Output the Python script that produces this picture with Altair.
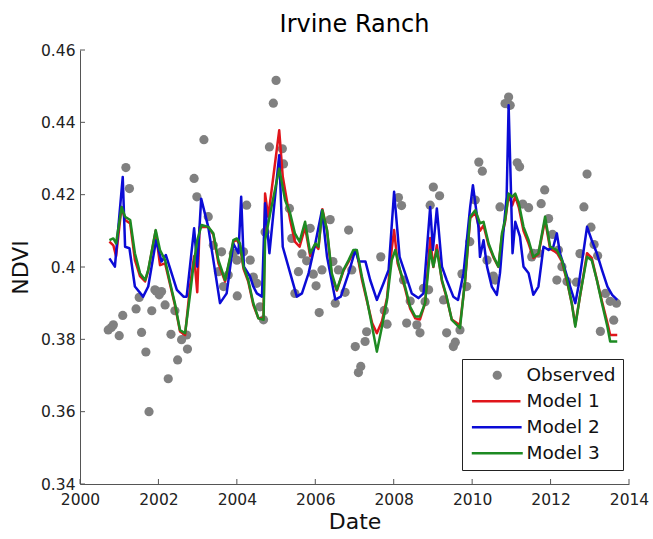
import altair as alt
import pandas as pd

# ---------------- data ----------------
obs_dates = [
    2000.72, 2000.80, 2000.85, 2001.00, 2001.09, 2001.17, 2001.26, 2001.43, 2001.51, 2001.57,
    2001.68, 2001.76, 2001.83, 2001.91, 2001.94, 2002.02, 2002.08, 2002.17, 2002.25, 2002.32,
    2002.42, 2002.49, 2002.59, 2002.72, 2002.74, 2002.91, 2002.98, 2003.16, 2003.27, 2003.40,
    2003.53, 2003.61, 2003.66, 2003.78, 2003.91, 2004.00, 2004.01, 2004.17, 2004.25, 2004.34,
    2004.42, 2004.51, 2004.59, 2004.68, 2004.72, 2004.83, 2004.93, 2005.00, 2005.16, 2005.19,
    2005.34, 2005.40, 2005.48, 2005.57, 2005.66, 2005.78, 2005.87, 2005.95, 2006.02, 2006.10,
    2006.17, 2006.38, 2006.45, 2006.51, 2006.59, 2006.76, 2006.85, 2006.93, 2007.02, 2007.10,
    2007.16, 2007.27, 2007.31, 2007.67, 2007.76, 2007.83, 2008.12, 2008.20, 2008.25, 2008.33,
    2008.42, 2008.59, 2008.67, 2008.76, 2008.80, 2008.89, 2008.93, 2009.01, 2009.17, 2009.27,
    2009.35, 2009.52, 2009.57, 2009.69, 2009.74, 2009.86, 2009.94, 2010.08, 2010.17, 2010.26,
    2010.38, 2010.54, 2010.59, 2010.71, 2010.84, 2010.93, 2010.97, 2011.15, 2011.21, 2011.29,
    2011.44, 2011.52, 2011.56, 2011.69, 2011.76, 2011.85, 2011.95, 2012.05, 2012.16, 2012.20,
    2012.29, 2012.42, 2012.66, 2012.75, 2012.85, 2012.93, 2013.03, 2013.11, 2013.20, 2013.27,
    2013.40, 2013.52, 2013.61, 2013.68,
]
obs_vals = [
    0.3826, 0.3833, 0.3840, 0.3810, 0.3866, 0.4275, 0.4217, 0.3884, 0.3916, 0.3819,
    0.3765, 0.3600, 0.3879, 0.3937, 0.3934, 0.3923, 0.3932, 0.3895, 0.3691, 0.3814,
    0.3879, 0.3743, 0.3799, 0.3812, 0.3773, 0.4245, 0.4194, 0.4352, 0.4139, 0.4060,
    0.3987, 0.4042, 0.3946, 0.3978, 0.4038, 0.4019, 0.3920, 0.4042, 0.4171, 0.4019,
    0.3972, 0.3955, 0.3890, 0.3854, 0.4097, 0.4332, 0.4453, 0.4516, 0.4327, 0.4285,
    0.4162, 0.4079, 0.3927, 0.3987, 0.4036, 0.4017, 0.4107, 0.3980, 0.3948, 0.3874,
    0.3992, 0.4131, 0.4015, 0.3900, 0.3992, 0.3930, 0.4102, 0.3992, 0.3780, 0.3708,
    0.3725, 0.3794, 0.3821, 0.4028, 0.3880, 0.3842, 0.4192, 0.4170, 0.3964, 0.3845,
    0.3906, 0.3840, 0.3818, 0.3941, 0.3904, 0.3937, 0.4171, 0.4221, 0.4197, 0.3909,
    0.3818, 0.3780, 0.3792, 0.3826, 0.3981, 0.3946, 0.4070, 0.4185, 0.4290, 0.4265,
    0.4019, 0.3975, 0.3964, 0.4166, 0.4452, 0.4470, 0.4447, 0.4288, 0.4277, 0.4174,
    0.4164, 0.4028, 0.4038, 0.4038, 0.4175, 0.4213, 0.4134, 0.4090, 0.3964, 0.4047,
    0.4001, 0.3960, 0.3958, 0.4037, 0.4166, 0.4257, 0.4110, 0.4062, 0.4031, 0.3822,
    0.3927, 0.3905, 0.3853, 0.3900,
]

m1_dates = [
    2000.75, 2000.85, 2000.92, 2001.06, 2001.15, 2001.28, 2001.40, 2001.53, 2001.66, 2001.74,
    2001.93, 2002.04, 2002.17, 2002.30, 2002.42, 2002.55, 2002.68, 2002.81, 2002.91, 2002.99,
    2003.05, 2003.27, 2003.40, 2003.53, 2003.70, 2003.83, 2003.91, 2004.00, 2004.08, 2004.17,
    2004.29, 2004.42, 2004.55, 2004.68, 2004.72, 2004.80, 2005.08, 2005.17, 2005.36, 2005.48,
    2005.60, 2005.74, 2005.87, 2006.00, 2006.08, 2006.18, 2006.30, 2006.42, 2006.55, 2006.72,
    2006.85, 2006.97, 2007.06, 2007.19, 2007.32, 2007.45, 2007.57, 2007.70, 2007.83, 2007.95,
    2008.01, 2008.10, 2008.16, 2008.29, 2008.42, 2008.55, 2008.67, 2008.80, 2008.93, 2009.01,
    2009.10, 2009.23, 2009.35, 2009.48, 2009.61, 2009.69, 2009.82, 2009.95, 2010.08, 2010.20,
    2010.29, 2010.42, 2010.55, 2010.67, 2010.76, 2010.84, 2010.93, 2011.02, 2011.10, 2011.19,
    2011.31, 2011.44, 2011.56, 2011.69, 2011.86, 2011.99, 2012.16, 2012.29, 2012.42, 2012.54,
    2012.63, 2012.76, 2012.93, 2013.05, 2013.18, 2013.31, 2013.45, 2013.52, 2013.70,
]
m1_vals = [
    0.4070, 0.4060, 0.4030, 0.4166, 0.4130, 0.4120, 0.4020, 0.3975, 0.3960, 0.3990,
    0.4100, 0.4005, 0.4010, 0.3950, 0.3895, 0.3822, 0.3812, 0.3950, 0.4030, 0.3930,
    0.4110, 0.4111, 0.4090, 0.4010, 0.3960, 0.4025, 0.4070, 0.4075, 0.4060, 0.3995,
    0.3960, 0.3895, 0.3858, 0.3858, 0.4203, 0.4139, 0.4378, 0.4250, 0.4130, 0.4070,
    0.4056, 0.4110, 0.4030, 0.4060, 0.4050, 0.4160, 0.4100, 0.3975, 0.3935, 0.3990,
    0.4015, 0.4040, 0.4040, 0.3965, 0.3905, 0.3845, 0.3817, 0.3850, 0.3915, 0.4050,
    0.4102, 0.4010, 0.3990, 0.3940, 0.3885, 0.3858, 0.3855, 0.3900, 0.4080, 0.4000,
    0.4060, 0.3960, 0.3915, 0.3855, 0.3845, 0.3840, 0.3960, 0.4135, 0.4150, 0.4100,
    0.4115, 0.4060, 0.4025, 0.4000, 0.4085, 0.4125, 0.4200, 0.4170, 0.4195, 0.4165,
    0.4100, 0.4065, 0.4025, 0.4035, 0.4130, 0.4050, 0.4040, 0.4015, 0.3960, 0.3900,
    0.3840, 0.3925, 0.4038, 0.4025, 0.3965, 0.3905, 0.3845, 0.3812, 0.3812,
]

m2_dates = [
    2000.75, 2000.89, 2001.09, 2001.15, 2001.26, 2001.40, 2001.61, 2001.74, 2001.94, 2002.08,
    2002.19, 2002.47, 2002.64, 2002.72, 2002.91, 2002.99, 2003.09, 2003.27, 2003.57, 2003.74,
    2003.91, 2004.04, 2004.11, 2004.18, 2004.34, 2004.42, 2004.51, 2004.64, 2004.72, 2004.83,
    2005.08, 2005.17, 2005.36, 2005.53, 2005.66, 2005.83, 2006.00, 2006.17, 2006.30, 2006.51,
    2006.65, 2006.85, 2007.02, 2007.11, 2007.28, 2007.40, 2007.57, 2007.74, 2007.87, 2008.01,
    2008.15, 2008.29, 2008.46, 2008.63, 2008.76, 2008.93, 2009.00, 2009.10, 2009.23, 2009.35,
    2009.52, 2009.64, 2009.78, 2009.95, 2010.02, 2010.16, 2010.20, 2010.29, 2010.38, 2010.50,
    2010.63, 2010.71, 2010.80, 2010.88, 2010.93, 2010.99, 2011.03, 2011.10, 2011.22, 2011.31,
    2011.44, 2011.56, 2011.69, 2011.82, 2011.95, 2012.07, 2012.16, 2012.24, 2012.37, 2012.50,
    2012.63, 2012.71, 2012.93, 2013.05, 2013.18, 2013.31, 2013.45, 2013.57, 2013.70,
]
m2_vals = [
    0.4024, 0.4001, 0.4249, 0.4056, 0.4052, 0.3946, 0.3918, 0.3946, 0.4074, 0.4015,
    0.4033, 0.3937, 0.3918, 0.3918, 0.4107, 0.4001, 0.4189, 0.4111, 0.3900, 0.3927,
    0.4065, 0.4038, 0.4194, 0.4001, 0.3973, 0.3946, 0.3927, 0.3918, 0.4176, 0.4038,
    0.4309, 0.4056, 0.3983, 0.3918, 0.3927, 0.3983, 0.4065, 0.4157, 0.4028, 0.3910,
    0.3918, 0.3983, 0.4047, 0.4015, 0.4015, 0.3964, 0.3909, 0.3955, 0.3992, 0.4208,
    0.4028, 0.3983, 0.3927, 0.3914, 0.3927, 0.4166, 0.4047, 0.4162, 0.4001, 0.3964,
    0.3918, 0.3909, 0.3983, 0.4166, 0.4226, 0.4111, 0.4028, 0.4074, 0.4001, 0.3946,
    0.3923, 0.3983, 0.4102, 0.4194, 0.4447, 0.4212, 0.4038, 0.4125, 0.4084, 0.4001,
    0.3983, 0.3923, 0.3946, 0.4056, 0.4047, 0.4056, 0.4093, 0.4038, 0.3992, 0.3946,
    0.3900, 0.3946, 0.4111, 0.4074, 0.4038, 0.3992, 0.3946, 0.3923, 0.3909,
]

m3_dates = [
    2000.75, 2000.85, 2000.92, 2001.06, 2001.15, 2001.28, 2001.40, 2001.53, 2001.66, 2001.74,
    2001.93, 2002.04, 2002.17, 2002.30, 2002.42, 2002.55, 2002.68, 2002.81, 2002.89, 2002.99,
    2003.10, 2003.27, 2003.40, 2003.53, 2003.70, 2003.83, 2003.91, 2004.00, 2004.08, 2004.17,
    2004.29, 2004.42, 2004.55, 2004.68, 2004.72, 2004.85, 2005.08, 2005.23, 2005.36, 2005.48,
    2005.60, 2005.74, 2005.87, 2006.00, 2006.08, 2006.18, 2006.30, 2006.42, 2006.55, 2006.72,
    2006.85, 2006.97, 2007.06, 2007.19, 2007.32, 2007.45, 2007.57, 2007.70, 2007.83, 2007.95,
    2008.04, 2008.16, 2008.29, 2008.42, 2008.55, 2008.67, 2008.80, 2008.93, 2009.01, 2009.10,
    2009.23, 2009.35, 2009.48, 2009.61, 2009.69, 2009.82, 2009.95, 2010.08, 2010.20, 2010.29,
    2010.42, 2010.55, 2010.67, 2010.76, 2010.84, 2010.93, 2011.02, 2011.10, 2011.19, 2011.31,
    2011.44, 2011.56, 2011.69, 2011.86, 2011.99, 2012.16, 2012.29, 2012.42, 2012.54, 2012.63,
    2012.76, 2012.93, 2013.05, 2013.18, 2013.31, 2013.45, 2013.52, 2013.70,
]
m3_vals = [
    0.4074, 0.4079, 0.4065, 0.4166, 0.4139, 0.4130, 0.4038, 0.3983, 0.3964, 0.3992,
    0.4102, 0.4047, 0.4019, 0.3955, 0.3900, 0.3826, 0.3817, 0.3927, 0.4001, 0.4074,
    0.4116, 0.4111, 0.4093, 0.4019, 0.3964, 0.4028, 0.4074, 0.4079, 0.4065, 0.4001,
    0.3964, 0.3900, 0.3858, 0.3854, 0.4074, 0.4148, 0.4272, 0.4185, 0.4148, 0.4093,
    0.4070, 0.4125, 0.4038, 0.4065, 0.4056, 0.4157, 0.4102, 0.3983, 0.3937, 0.3992,
    0.4019, 0.4047, 0.4047, 0.3973, 0.3909, 0.3835, 0.3766, 0.3835, 0.3909, 0.4019,
    0.4047, 0.3992, 0.3946, 0.3890, 0.3863, 0.3863, 0.3900, 0.4047, 0.4001, 0.4047,
    0.3964, 0.3918, 0.3854, 0.3840, 0.3831, 0.3964, 0.4139, 0.4157, 0.4121, 0.4125,
    0.4065, 0.4028, 0.4001, 0.4093, 0.4130, 0.4203, 0.4194, 0.4203, 0.4176, 0.4111,
    0.4074, 0.4028, 0.4038, 0.4139, 0.4056, 0.4047, 0.4019, 0.3964, 0.3900, 0.3835,
    0.3927, 0.4028, 0.4019, 0.3964, 0.3900, 0.3835, 0.3794, 0.3794,
]

series_names = ["Observed", "Model 1", "Model 2", "Model 3"]
series_stroke = ["transparent", "#e0151b", "#0b0bd6", "#1d8a22"]
series_fill = ["#808080", "transparent", "transparent", "transparent"]
series_size = [85, 100, 100, 100]
# legend glyphs (unit-square SVG paths): a dot centred on a 51px line sample
LEGEND_DOT = "M5.12,0A1,1,0,1,1,3.12,0A1,1,0,1,1,5.12,0Z"
LEGEND_LINE = "M-1.3,0H8.9"
legend_shapes = [LEGEND_DOT, LEGEND_LINE, LEGEND_LINE, LEGEND_LINE]
x_tick_values = [2000, 2002, 2004, 2006, 2008, 2010, 2012, 2014]
y_tick_values = [0.34, 0.36, 0.38, 0.40, 0.42, 0.44, 0.46]

# ---------------- tables ----------------
obs_df = pd.DataFrame({"date": obs_dates, "ndvi": obs_vals, "series": "Observed"})
frames = []
for name, d, v in [("Model 1", m1_dates, m1_vals),
                   ("Model 2", m2_dates, m2_vals),
                   ("Model 3", m3_dates, m3_vals)]:
    frames.append(pd.DataFrame({"date": d, "ndvi": v, "series": name}))
lines_df = pd.concat(frames, ignore_index=True)
xtick_df = pd.DataFrame({"date": x_tick_values})
ytick_df = pd.DataFrame({"ndvi": y_tick_values})
empty_df = pd.DataFrame({"date": pd.Series([], dtype=float),
                         "ndvi": pd.Series([], dtype=float),
                         "series": pd.Series([], dtype=str)})

FONT = "DejaVu Sans"
AXIS_COLOR = "#555555"

x_scale = alt.Scale(domain=[2000, 2014], nice=False, zero=False)
y_scale = alt.Scale(domain=[0.34, 0.46], nice=False, zero=False)
stroke_scale = alt.Scale(domain=series_names, range=series_stroke)
fill_scale = alt.Scale(domain=series_names, range=series_fill)
shape_scale = alt.Scale(domain=series_names, range=legend_shapes)
size_scale = alt.Scale(domain=series_names, range=series_size)

legend = alt.Legend(
    title=None, orient="none", legendX=382, legendY=309, direction="vertical",
    labelFont=FONT, labelFontSize=18.5, labelColor="#111111",
    symbolStrokeWidth=2.5, symbolOpacity=1,
    labelOffset=39, rowPadding=7, padding=7,
    strokeColor="#222222", fillColor="white",
)

x_axis = alt.Axis(values=x_tick_values, format="d", title="Date", titleFontSize=22,
                  titlePadding=4, labelFontSize=15.5, labelPadding=8, ticks=False,
                  labelFlush=False, grid=False)
y_axis = alt.Axis(values=y_tick_values, format=".2~f", title="NDVI", titleFontSize=22,
                  titlePadding=8, labelFontSize=15.5, labelPadding=5, ticks=False,
                  labelFlush=False, grid=False)

xticks = alt.Chart(xtick_df).mark_rule(color=AXIS_COLOR, strokeWidth=1).encode(
    x=alt.X("date:Q", scale=x_scale, axis=x_axis),
    y=alt.value(434), y2=alt.value(429),
)
yticks = alt.Chart(ytick_df).mark_rule(color=AXIS_COLOR, strokeWidth=1).encode(
    y=alt.Y("ndvi:Q", scale=y_scale, axis=y_axis),
    x=alt.value(0), x2=alt.value(5),
)
points = alt.Chart(obs_df).mark_circle(opacity=1).encode(
    x=alt.X("date:Q", scale=x_scale, axis=x_axis),
    y=alt.Y("ndvi:Q", scale=y_scale, axis=y_axis),
    fill=alt.Fill("series:N", scale=fill_scale, legend=legend),
    stroke=alt.Stroke("series:N", scale=stroke_scale, legend=legend),
    size=alt.Size("series:N", scale=size_scale, legend=legend),
)
# carries only the legend glyph shapes (no rows)
legend_glyphs = alt.Chart(empty_df).mark_point().encode(
    x=alt.X("date:Q", scale=x_scale, axis=x_axis),
    y=alt.Y("ndvi:Q", scale=y_scale, axis=y_axis),
    shape=alt.Shape("series:N", scale=shape_scale, legend=legend),
)
lines = alt.Chart(lines_df).mark_line(strokeWidth=2.5, strokeJoin="round").encode(
    x=alt.X("date:Q", scale=x_scale, axis=x_axis),
    y=alt.Y("ndvi:Q", scale=y_scale, axis=y_axis),
    stroke=alt.Stroke("series:N", scale=stroke_scale, legend=legend),
)

chart = alt.layer(points, legend_glyphs, lines, xticks, yticks).properties(
    width=549, height=434,
    autosize=alt.AutoSizeParams(type="none"),
    padding={"left": 80, "top": 50, "right": 24, "bottom": 55},
    title=alt.TitleParams("Irvine Ranch", font=FONT, fontSize=24, fontWeight="normal",
                          color="black", offset=17, baseline="alphabetic", dy=30,
                          frame="group", anchor="middle"),
).configure_view(stroke=None).configure_axis(
    domainColor=AXIS_COLOR, domainWidth=1, labelColor="#222222", titleColor="#111111",
    labelFont=FONT, titleFont=FONT, titleFontWeight="normal",
)

chart.save("out.html", embed_options={"renderer": "svg", "actions": False})
